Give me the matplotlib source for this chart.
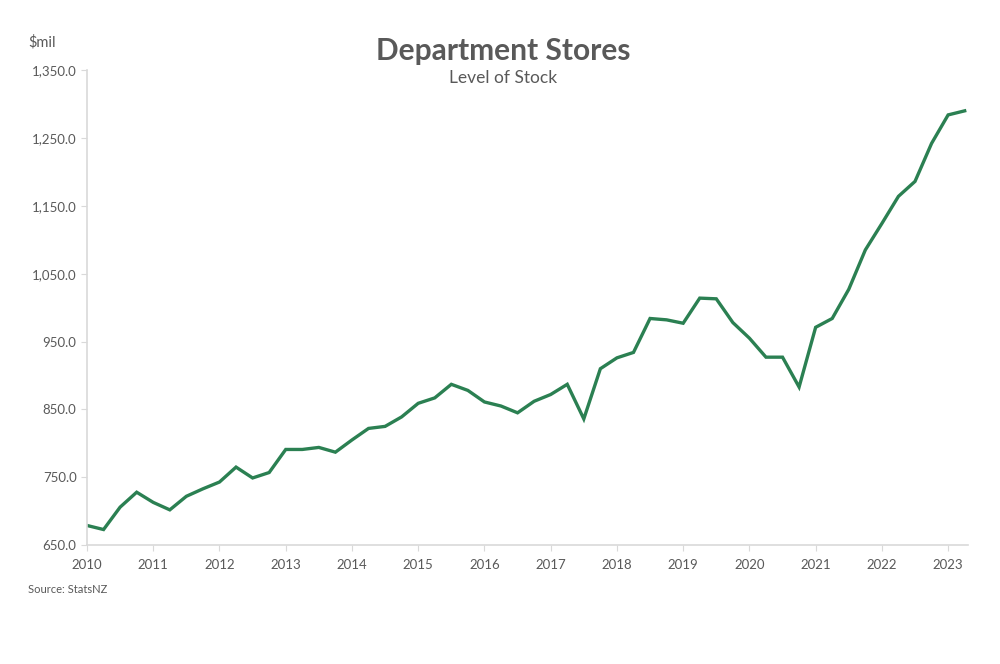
import matplotlib.pyplot as plt
import numpy as np
from matplotlib.ticker import FuncFormatter

# quarterly level of stock, department stores ($mil), from 2010 Q1
start_year = 2010.0
stock = [
    679, 673, 706, 728, 713, 702, 722, 733, 743, 765, 749, 757,
    791, 791, 794, 787, 805, 822, 825, 839, 859, 867, 887, 878,
    861, 855, 845, 862, 872, 887, 836, 910, 926, 934, 984, 982,
    977, 1014, 1013, 978, 955, 927, 927, 883, 971, 984, 1027, 1085,
    1124, 1164, 1186, 1242, 1284, 1290,
]
years = list(range(2010, 2024))
y_ticks = [650, 750, 850, 950, 1050, 1150, 1250, 1350]

x = start_year + np.arange(len(stock)) / 4

plt.rcParams["font.family"] = ["Lato", "DejaVu Sans"]
grey = "#595959"
axis_grey = "#d9d9d9"

fig = plt.figure(figsize=(10, 6.64), dpi=100)
ax = fig.add_axes([0.087, 0.179, 0.881, 0.7154])

ax.plot(x, stock, color="#2b8052", lw=2.4, solid_joinstyle="miter")

ax.set_xlim(2010, 2023.3)
ax.set_ylim(650, 1350)
ax.set_xticks(years)
ax.set_yticks(y_ticks)
ax.yaxis.set_major_formatter(FuncFormatter(lambda v, p: f"{v:,.1f}"))

for side in ["top", "right"]:
    ax.spines[side].set_visible(False)
for side in ["left", "bottom"]:
    ax.spines[side].set_color(axis_grey)
    ax.spines[side].set_linewidth(1.2)

ax.tick_params(axis="both", colors=axis_grey, labelcolor=grey, labelsize=9.5, length=4)
ax.tick_params(axis="x", pad=6)

fig.text(0.503, 0.923, "Department Stores", ha="center", va="center",
         fontsize=21.5, fontweight="bold", color=grey)
fig.text(0.503, 0.883, "Level of Stock", ha="center", va="center",
         fontsize=12.5, color=grey)
fig.text(0.028, 0.937, "$mil", ha="left", va="center", fontsize=10.5, color=grey)
fig.text(0.028, 0.112, "Source: StatsNZ", ha="left", va="center", fontsize=8, color=grey)

fig.savefig("out.png", dpi=100)
